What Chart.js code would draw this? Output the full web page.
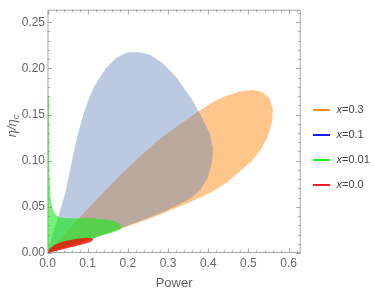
<!DOCTYPE html>
<html>
<head>
<meta charset="utf-8">
<script src="https://cdn.jsdelivr.net/npm/chart.js@4.4.0/dist/chart.umd.min.js"></script>
<style>
  html, body { margin: 0; padding: 0; background: #fff; }
</style>
</head>
<body>
<canvas id="grafica" width="374" height="293"></canvas>
<script>
// boundary points: power (x axis) and eta/eta_C (y axis)
const pow03 = [0, 0.0311, 0.0808, 0.1306, 0.1803, 0.2301, 0.2799, 0.3296, 0.3744, 0.4117, 0.4415, 0.4789, 0.5112, 0.5361, 0.5535, 0.5610, 0.5585, 0.5485, 0.5311, 0.5087, 0.4863, 0.4465, 0.4042, 0.3619, 0.3221, 0.2799, 0.2301, 0.1803, 0.1306, 0.0808, 0.0311];
const eta03 = [0, 0.0147, 0.0388, 0.0618, 0.0839, 0.1048, 0.1237, 0.1394, 0.1530, 0.1635, 0.1698, 0.1751, 0.1766, 0.1740, 0.1667, 0.1551, 0.1415, 0.1268, 0.1122, 0.0996, 0.0912, 0.0765, 0.0650, 0.0566, 0.0493, 0.0414, 0.0335, 0.0257, 0.0183, 0.0110, 0.0042];

const pow01 = [0, 0.0137, 0.0286, 0.0435, 0.0560, 0.0647, 0.0759, 0.0891, 0.1007, 0.1139, 0.1306, 0.1473, 0.1721, 0.2002, 0.2301, 0.2550, 0.2873, 0.3221, 0.3619, 0.3868, 0.4042, 0.4117, 0.4092, 0.3993, 0.3794, 0.3545, 0.3221, 0.2799, 0.2301, 0.1803, 0.1306, 0.0808, 0.0311];
const eta01 = [0, 0.0220, 0.0419, 0.0639, 0.0891, 0.1080, 0.1289, 0.1499, 0.1646, 0.1782, 0.1908, 0.2013, 0.2117, 0.2175, 0.2175, 0.2149, 0.2055, 0.1897, 0.1646, 0.1447, 0.1289, 0.1132, 0.0975, 0.0818, 0.0681, 0.0587, 0.0514, 0.0430, 0.0346, 0.0267, 0.0189, 0.0115, 0.0047];

const pow001 = [0, 0, 0.0040, 0.0040, 0.0048, 0.0072, 0.0112, 0.0187, 0.0311, 0.0560, 0.1057, 0.1430, 0.1654, 0.1803, 0.1853, 0.1803, 0.1604, 0.1306, 0.0933, 0.0560, 0.0261, 0.0062];
const eta001 = [0, 0.1698, 0.1698, 0.1289, 0.0870, 0.0608, 0.0493, 0.0419, 0.0383, 0.0377, 0.0377, 0.0367, 0.0346, 0.0314, 0.0283, 0.0252, 0.0220, 0.0183, 0.0131, 0.0084, 0.0042, 0.0010];

const pow00 = [0, 0.0062, 0.0187, 0.0410, 0.0734, 0.0980, 0.1110, 0.1144, 0.1070, 0.0808, 0.0460, 0.0187, 0.0037];
const eta00 = [0, 0.0052, 0.0092, 0.0127, 0.0155, 0.0166, 0.0161, 0.0145, 0.0120, 0.0086, 0.0048, 0.0019, 0.0003];

const etiquetas = ['0.3', '0.1', '0.01', '0.0'];
const xTicks = [0, 0.1, 0.2, 0.3, 0.4, 0.5, 0.6];
const yTicks = [0, 0.05, 0.10, 0.15, 0.20, 0.25];

const fuente = "'Liberation Sans', Arial, sans-serif";
const rellenos = ['rgba(255,128,0,0.45)', 'rgba(94,129,181,0.42)', 'rgba(20,235,20,0.6)', 'rgba(232,22,10,0.85)'];
const lineas = ['#ff8c1a', '#1a1aff', '#22ee22', '#ee2222'];
const orden = [4, 3, 2, 1];

const aPuntos = (xs, ys) => xs.map((v, i) => ({ x: v, y: ys[i] }));
const regiones = [aPuntos(pow03, eta03), aPuntos(pow01, eta01), aPuntos(pow001, eta001), aPuntos(pow00, eta00)];

// minor ticks between the majors
const subdividir = (mayores, n, hasta) => {
    const paso = (mayores[1] - mayores[0]) / n;
    const out = [];
    for (let v = 0; v <= hasta + 1e-9; v += paso) out.push(+v.toFixed(4));
    return out;
};

const marco = {
    id: 'marco',
    beforeDatasetsDraw(chart) {
        const { ctx, chartArea: a, scales } = chart;
        ctx.save();
        ctx.strokeStyle = '#a6a6a6';
        ctx.lineWidth = 1;
        ctx.strokeRect(a.left + 0.5, a.top + 0.5, a.right - a.left - 1, a.bottom - a.top - 1);
        const xs = scales.x, ys = scales.y;
        ctx.beginPath();
        subdividir(xTicks, 5, xs.max).forEach(v => {
            const mayor = xTicks.some(t => Math.abs(t - v) < 1e-6);
            const px = Math.round(xs.getPixelForValue(v)) + 0.5;
            const l = mayor ? 4.5 : 2.5;
            ctx.moveTo(px, a.bottom); ctx.lineTo(px, a.bottom - l);
            ctx.moveTo(px, a.top); ctx.lineTo(px, a.top + l);
        });
        subdividir(yTicks, 5, ys.max).forEach(v => {
            const mayor = yTicks.some(t => Math.abs(t - v) < 1e-6);
            const py = Math.round(ys.getPixelForValue(v)) + 0.5;
            const l = mayor ? 4.5 : 2.5;
            ctx.moveTo(a.left, py); ctx.lineTo(a.left + l, py);
            ctx.moveTo(a.right, py); ctx.lineTo(a.right - l, py);
        });
        ctx.stroke();
        ctx.restore();
    },
    afterDraw(chart) {
        const { ctx, chartArea: a } = chart;
        ctx.save();
        // axis titles
        ctx.fillStyle = '#666';
        ctx.font = '13px ' + fuente;
        ctx.textAlign = 'center';
        ctx.textBaseline = 'alphabetic';
        ctx.fillText('Power', (a.left + a.right) / 2, 287);

        ctx.translate(16, 126);
        ctx.rotate(-Math.PI / 2);
        const f1 = 'italic 13px ' + fuente, f2 = 'italic 9px ' + fuente;
        ctx.font = f1; const w1 = ctx.measureText('η/η').width;
        ctx.font = f2; const w2 = ctx.measureText('c').width;
        ctx.textAlign = 'left';
        ctx.font = f1; ctx.fillText('η/η', -(w1 + w2) / 2, 0);
        ctx.font = f2; ctx.fillText('c', -(w1 + w2) / 2 + w1, 3);
        ctx.setTransform(1, 0, 0, 1, 0, 0);

        // legend
        chart.data.datasets.forEach((d, i) => {
            const y = 110 + i * 25;
            ctx.strokeStyle = lineas[i];
            ctx.lineWidth = 2;
            ctx.beginPath(); ctx.moveTo(313, y); ctx.lineTo(330, y); ctx.stroke();
            ctx.fillStyle = '#444';
            ctx.textBaseline = 'middle';
            ctx.textAlign = 'left';
            ctx.font = 'italic 11px ' + fuente;
            ctx.fillText('x', 336.5, y);
            const wx = ctx.measureText('x').width;
            ctx.font = '11px ' + fuente;
            ctx.fillText('=' + etiquetas[i], 336.5 + wx, y);
        });
        ctx.restore();
    }
};

const eje = (ticks, decimales, padding) => ({
    type: 'linear',
    grid: { display: false, drawTicks: false },
    border: { display: false },
    afterBuildTicks: s => { s.ticks = ticks.map(v => ({ value: v })); },
    ticks: {
        padding: padding,
        color: '#666',
        autoSkip: false,
        maxRotation: 0,
        font: { family: fuente, size: 12 },
        callback: v => v.toFixed(decimales)
    }
});

const ctx = document.getElementById('grafica');
new Chart(ctx, {
    type: 'scatter',
    data: {
        datasets: regiones.map((pts, i) => ({
            label: 'x=' + etiquetas[i],
            data: pts,
            showLine: true,
            fill: 'shape',
            backgroundColor: rellenos[i],
            borderWidth: 0,
            borderColor: 'rgba(0,0,0,0)',
            pointRadius: 0,
            tension: 0,
            order: orden[i]
        }))
    },
    options: {
        responsive: false,
        animation: false,
        devicePixelRatio: 1,
        layout: { padding: { left: 0, top: 2, right: 73.3, bottom: 0 } },
        plugins: { legend: { display: false }, tooltip: { enabled: false } },
        scales: {
            x: Object.assign(eje(xTicks, 1, 3), { min: 0, max: 0.63, afterFit: s => { s.height = 40; } }),
            y: Object.assign(eje(yTicks, 2, 2.5), { min: 0, max: 0.2636, afterFit: s => { s.width = 47.5; } })
        }
    },
    plugins: [marco]
});
</script>
</body>
</html>
